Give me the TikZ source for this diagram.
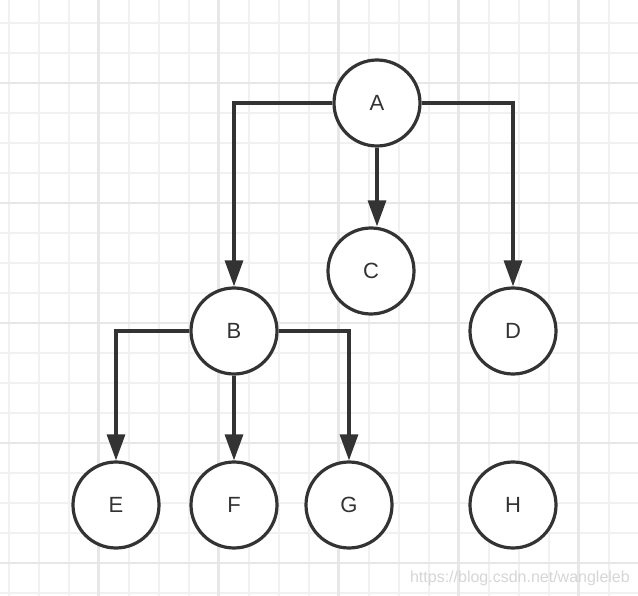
\documentclass[tikz,border=0pt]{standalone}
\usepackage{fontspec}
\setmainfont{Liberation Sans}
\usetikzlibrary{arrows.meta}
\definecolor{ink}{HTML}{333333}
\definecolor{gridminor}{HTML}{F1F1F1}
\definecolor{gridmajor}{HTML}{E7E7E7}
\definecolor{wmark}{HTML}{D6D6D6}
\begin{document}
\begin{tikzpicture}[x=1pt,y=-1pt,
  vert/.style={circle,draw=ink,line width=3.2pt,minimum size=86pt,inner sep=0pt,fill=white,
    font=\fontsize{22}{22}\selectfont,text=ink},
  conn/.style={draw=ink,line width=3.2pt,-{Triangle[length=26pt,width=18pt]}},
  gminor/.style={draw=gridminor,line width=2pt},
  gmajor/.style={draw=gridmajor,line width=2.2pt},
]
\fill[white] (0,0) rectangle (638,596);
\useasboundingbox (0,0) rectangle (638,596);
% grid
\foreach \x in {8.5,38.5,68.5,128.5,158.5,188.5,248.5,278.5,308.5,368.5,398.5,428.5,488.5,518.5,548.5,608.5}
  \draw[gminor] (\x,0) -- (\x,596);
\foreach \y in {23.3,53.3,113.3,143.3,173.3,233.3,263.3,293.3,353.3,383.3,413.3,473.3,503.3,533.3,593.3}
  \draw[gminor] (0,\y) -- (638,\y);
\foreach \x in {98.5,218.5,338.5,458.5,578.5}
  \draw[gmajor] (\x,0) -- (\x,596);
\foreach \y in {83.3,203.3,323.3,443.3,563.3}
  \draw[gmajor] (0,\y) -- (638,\y);
% watermark
\node[text=wmark,font=\fontsize{16}{16}\selectfont,anchor=east,inner sep=0pt] (wm) at (630,578) {https://blog.csdn.net/wangleleb};
% nodes
\node[vert] (A) at (377,103) {A};
\node[vert] (C) at (371,271) {C};
\node[vert] (D) at (513,331) {D};
\node[vert] (B) at (234,331) {B};
\node[vert] (E) at (116,505) {E};
\node[vert] (F) at (234,505) {F};
\node[vert] (G) at (349,505) {G};
\node[vert] (H) at (513,505) {H};
% connectors
\draw[conn] (A.west) -| (B.north);
\draw[conn] (A.east) -| (D.north);
\draw[conn] (A.south) -- (A.south |- C.north);
\draw[conn] (B.west) -| (E.north);
\draw[conn] (B.south) -- (F.north);
\draw[conn] (B.east) -| (G.north);
\end{tikzpicture}
\end{document}
